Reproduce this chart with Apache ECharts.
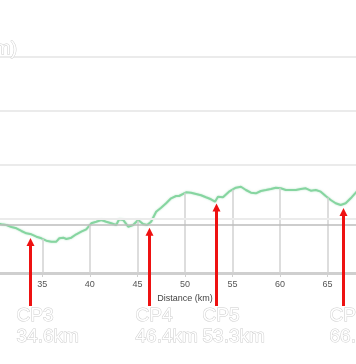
<!DOCTYPE html>
<html><head><meta charset="utf-8">
<script src="https://cdn.jsdelivr.net/npm/echarts@6/dist/echarts.min.js"></script>
<style>html,body{margin:0;padding:0;background:#fff;overflow:hidden;width:356px;height:364px}
#c{position:absolute;left:-296px;top:0;width:1000px;height:364px}</style>
</head><body><div id="c"></div>
<script>
// distance (km)
var distKm = [30.4,30.70,31.23,31.75,32.28,32.80,33.32,33.85,34.38,34.90,35.42,35.95,36.47,36.79,37.21,37.52,38.05,38.57,39.10,39.62,40.15,40.67,41.20,41.72,42.25,42.77,43.08,43.50,44.03,44.55,45.08,45.60,46.02,46.44,46.97,47.49,48.02,48.54,49.07,49.38,50.12,50.64,51.17,51.69,52.21,52.74,53.16,53.47,54.00,54.63,55.36,55.89,56.41,56.94,57.46,57.98,58.51,59.03,59.56,60.08,60.61,61.13,61.66,62.18,62.71,63.23,63.76,64.28,64.80,65.33,65.85,66.38,66.90,67.43,68.06,68.4];
// elevation (m)
var elevM = [91,90.2,88.9,85.2,82.8,77.8,73.5,71.7,67.2,64.3,59.8,58.0,58.0,64.3,65.4,63.0,65.4,71.7,76.5,80.9,92.0,95.0,98.2,95.0,92.0,88.9,99.5,98.2,85.7,88.9,98.2,90.7,88.9,95.0,113.5,120.9,129.1,138.3,142.6,142.6,149.5,148.7,146.3,143.9,140.2,136.5,132.0,141.3,140.2,150.6,158.0,159.8,153.7,148.7,147.6,151.9,153.7,155.6,158.0,156.9,153.7,153.7,153.7,155.6,156.9,152.4,153.7,150.6,142.6,135.2,129.1,125.9,129.1,138.3,150.6,156];
// x-axis range and ticks
var xMin = 0, xMax = 100, xStep = 5;
// y-axis range and grid lines
var yMin = 0, yMax = 400, yStep = 100;
var yGridValues = [400, 300, 200, 100];
var refElev = 89;
// checkpoints
var cpNames = ['CP3','CP4','CP5','CP6'];
var cpLabelKm = ['34.6km','46.4km','53.3km','66.6km'];
var cpArrowKm = [33.75, 46.18, 53.30, 66.66];
var yAxisTitle = 'Elevation (m)';
var xAxisTitle = 'Distance (km)';

var OFF = 296; // page offset of the chart container
var chart = echarts.init(document.getElementById('c'), null, {renderer:'canvas'});
var data = distKm.map(function(d,i){return [d, elevM[i]];});
var hollow = {fill:'#fff', stroke:'#cccccc', lineWidth:1, font:'19px "Liberation Sans", Arial, sans-serif'};

function elevAt(km){
  for (var i=0;i<distKm.length-1;i++){
    if (km>=distKm[i] && km<=distKm[i+1]){
      var t=(km-distKm[i])/(distKm[i+1]-distKm[i]);
      return elevM[i]+t*(elevM[i+1]-elevM[i]);
    }
  }
  return null;
}

// vertical grid lines drawn only below the profile
var vLines = [];
for (var k = xMin; k <= xMax; k += xStep){
  var e = elevAt(k);
  if (e === null) e = yMax;
  vLines.push([{coord:[k, yMin], lineStyle:{color:'#d2d2d2', width:1.5, type:'solid'}}, {coord:[k, e]}]);
}
var hLines = yGridValues.map(function(v){return {yAxis:v, lineStyle:{color:'#ebebeb', width:2, type:'solid'}};})
  .concat([{yAxis:refElev, lineStyle:{color:'#bdbdbd', width:1.5, type:'solid'}}]);

chart.setOption({
  animation:false,
  grid:{left:3.4, right:43.6, top:57, bottom:91, containLabel:false},
  xAxis:{type:'value', min:xMin, max:xMax, interval:xStep,
    name:xAxisTitle, nameLocation:'middle', nameGap:18,
    nameTextStyle:{fontSize:9, color:'#444', fontFamily:'"Liberation Sans", Arial, sans-serif'},
    axisLine:{show:true, lineStyle:{color:'#cfcfcf', width:3}},
    axisTick:{show:true, length:4, lineStyle:{color:'#cfcfcf', width:1}},
    axisLabel:{margin:7, fontSize:9, color:'#555', fontFamily:'"Liberation Sans", Arial, sans-serif'},
    splitLine:{show:false}},
  yAxis:{type:'value', min:yMin, max:yMax, interval:yStep,
    axisLine:{show:false}, axisTick:{show:false}, axisLabel:{show:false}, splitLine:{show:false}},
  series:[
    {type:'line', data:[], markLine:{silent:true, symbol:'none', label:{show:false}, data:vLines}, z:1},
    {type:'line', data:[], markLine:{silent:true, symbol:'none', label:{show:false}, data:hLines}, z:1},
    {type:'line', data:data, showSymbol:false, smooth:false, z:3,
    lineStyle:{color:'#86d5a0', width:2, shadowBlur:2, shadowColor:'rgba(130,210,160,0.6)'}}
  ]
});

var els = [];
var ttl = chart.convertToPixel({gridIndex:0},[xMin,yMax]);
els.push({type:'text', style:Object.assign({text:yAxisTitle, x:17+OFF, y:ttl[1]-8, align:'right', verticalAlign:'middle'}, hollow), z:100});
cpArrowKm.forEach(function(km,i){
  var p = chart.convertToPixel({gridIndex:0},[km, elevAt(km)]);
  var x = Math.round(p[0])+0.5, tip = p[1]+4, bottom = 306;
  els.push({type:'line', shape:{x1:x, y1:tip+7, x2:x, y2:bottom}, style:{stroke:'#ee1111', lineWidth:3}, z:100});
  els.push({type:'polygon', shape:{points:[[x,tip],[x-4,tip+8],[x+4,tip+8]]}, style:{fill:'#ee1111'}, z:100});
  els.push({type:'text', style:Object.assign({text:cpNames[i]+'\n'+cpLabelKm[i], x:x-14, y:305, align:'left', verticalAlign:'top', lineHeight:21}, hollow), z:100});
});
chart.setOption({graphic:{elements:els}});
</script></body></html>
